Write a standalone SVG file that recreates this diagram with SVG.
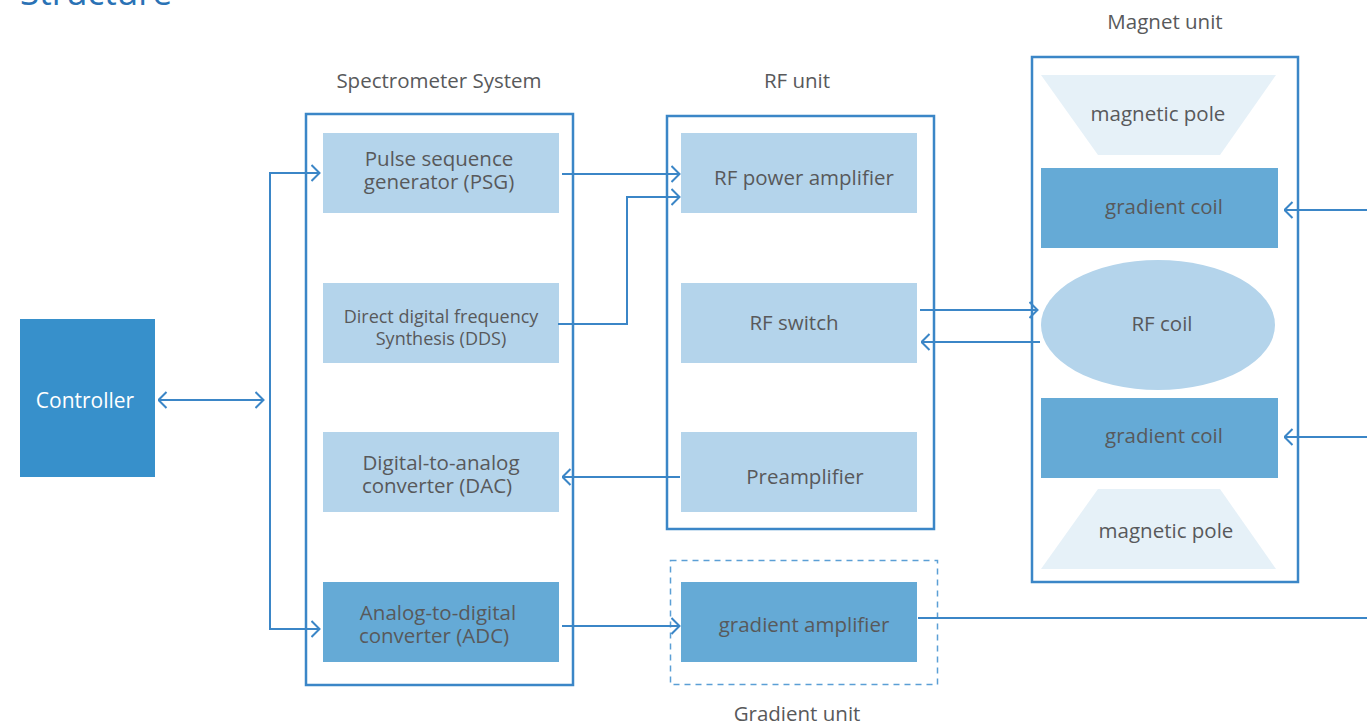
<svg xmlns="http://www.w3.org/2000/svg" width="1367" height="727" viewBox="0 0 1367 727">
<style>
text{font-family:"Open Sans","Liberation Sans",sans-serif;fill:#58595b;text-anchor:middle}
.lbl{font-size:20.5px}
.t{font-size:20.5px}
.ts{font-size:18px}
.light{fill:#b4d4eb}
.dark{fill:#65aad6}
.pole{fill:#e6f1f8}
.frame{fill:none;stroke:#3b86c7;stroke-width:2.5}
.dash{fill:none;stroke:#5b9fd5;stroke-width:1.5;stroke-dasharray:6 5}
.c{fill:none;stroke:#3b86c7;stroke-width:2}
</style>
<defs>
<marker id="ah" viewBox="0 0 10 18" refX="9.5" refY="9" markerWidth="10" markerHeight="18" markerUnits="userSpaceOnUse" orient="auto-start-reverse">
<path d="M1,1 L9,9 L1,17" fill="none" stroke="#3b86c7" stroke-width="2"/>
</marker>
</defs>
<rect width="1367" height="727" fill="#ffffff"/>
<text x="20" y="5" style="font-size:35px;fill:#2a72b5;text-anchor:start">Structure</text>

<g id="controller">
<rect x="20" y="319" width="135" height="158" fill="#3790cb"/>
<text x="85" y="408" style="fill:#ffffff;font-size:21px">Controller</text>
</g>

<g id="spectrometer">
<rect class="frame" x="306" y="114" width="267" height="571"/>
<text x="439" y="88" class="lbl">Spectrometer System</text>
</g>
<g id="psg">
<rect class="light" x="323" y="133" width="236" height="80"/>
<text class="t"><tspan x="439" y="166">Pulse sequence</tspan><tspan x="439" y="189">generator (PSG)</tspan></text>
</g>
<g id="dds">
<rect class="light" x="323" y="283" width="236" height="80"/>
<text class="ts"><tspan x="441" y="323">Direct digital frequency</tspan><tspan x="441" y="345">Synthesis (DDS)</tspan></text>
</g>
<g id="dac">
<rect class="light" x="323" y="432" width="236" height="80"/>
<text class="t"><tspan x="441" y="470">Digital-to-analog</tspan><tspan x="437" y="493">converter (DAC)</tspan></text>
</g>
<g id="adc">
<rect class="dark" x="323" y="582" width="236" height="80"/>
<text class="t"><tspan x="438" y="620">Analog-to-digital</tspan><tspan x="434" y="643">converter (ADC)</tspan></text>
</g>

<g id="rf-unit">
<rect class="frame" x="667" y="116" width="267" height="413"/>
<text x="797" y="88" class="lbl">RF unit</text>
</g>
<g id="rf-power-amplifier">
<rect class="light" x="681" y="133" width="236" height="80"/>
<text x="804" y="185" class="t">RF power amplifier</text>
</g>
<g id="rf-switch">
<rect class="light" x="681" y="283" width="236" height="80"/>
<text x="794" y="330" class="t">RF switch</text>
</g>
<g id="preamplifier">
<rect class="light" x="681" y="432" width="236" height="80"/>
<text x="805" y="484" class="t">Preamplifier</text>
</g>

<g id="gradient-unit">
<rect class="dash" x="670.5" y="560.5" width="267" height="124"/>
<text x="797" y="721" class="lbl">Gradient unit</text>
</g>
<g id="gradient-amplifier">
<rect class="dark" x="681" y="582" width="236" height="80"/>
<text x="804" y="632" class="t">gradient amplifier</text>
</g>

<g id="magnet-unit">
<rect class="frame" x="1032" y="57" width="266" height="525"/>
<text x="1165" y="29" class="lbl">Magnet unit</text>
</g>
<g id="magnetic-pole-top">
<polygon class="pole" points="1041,75 1276,75 1220,155 1098,155"/>
<text x="1158" y="121" class="t">magnetic pole</text>
</g>
<g id="gradient-coil-top">
<rect class="dark" x="1041" y="168" width="237" height="80"/>
<text x="1164" y="214" class="t">gradient coil</text>
</g>
<g id="rf-coil">
<ellipse cx="1158" cy="325" rx="117" ry="65" fill="#b4d4eb"/>
<text x="1162" y="331" class="t">RF coil</text>
</g>
<g id="gradient-coil-bottom">
<rect class="dark" x="1041" y="398" width="237" height="80"/>
<text x="1164" y="443" class="t">gradient coil</text>
</g>
<g id="magnetic-pole-bottom">
<polygon class="pole" points="1098,489 1220,489 1276,569 1041,569"/>
<text x="1166" y="538" class="t">magnetic pole</text>
</g>

<g id="connectors">
<line class="c" x1="158" y1="400" x2="264" y2="400" marker-start="url(#ah)" marker-end="url(#ah)"/>
<polyline class="c" points="320,173 270,173 270,629 320,629" marker-start="url(#ah)" marker-end="url(#ah)"/>
<line class="c" x1="562" y1="174" x2="680" y2="174" marker-end="url(#ah)"/>
<polyline class="c" points="558,324 627,324 627,197 680,197" marker-end="url(#ah)"/>
<line class="c" x1="920" y1="310" x2="1038" y2="310" marker-end="url(#ah)"/>
<line class="c" x1="1040" y1="342" x2="921" y2="342" marker-end="url(#ah)"/>
<line class="c" x1="680" y1="477" x2="562" y2="477" marker-end="url(#ah)"/>
<line class="c" x1="562" y1="626" x2="680" y2="626" marker-end="url(#ah)"/>
<line class="c" x1="918" y1="618" x2="1367" y2="618"/>
<line class="c" x1="1367" y1="210" x2="1284" y2="210" marker-end="url(#ah)"/>
<line class="c" x1="1367" y1="437" x2="1284" y2="437" marker-end="url(#ah)"/>
</g>
</svg>
